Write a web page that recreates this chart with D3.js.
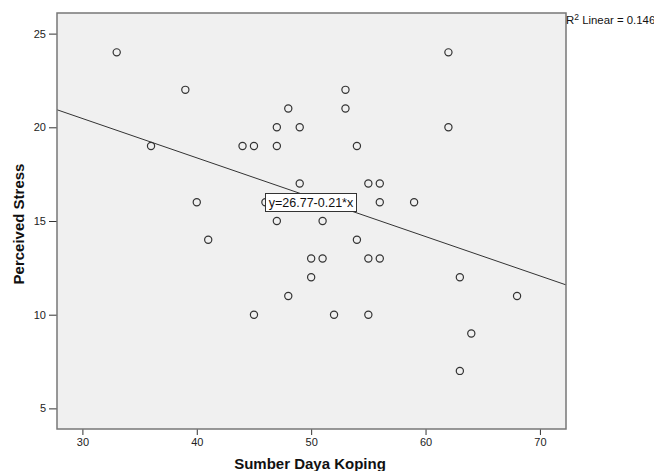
<!DOCTYPE html>
<html>
<head>
<meta charset="utf-8">
<script src="https://cdn.jsdelivr.net/npm/d3@7"></script>
<style>
  body { margin: 0; background: #fff; }
  text { font-family: Arial, "Liberation Sans", sans-serif; }
</style>
</head>
<body>
<svg id="chart"></svg>
<script>
var width = 654,
    height = 471;

var koping = [33, 36, 39, 40, 41, 44, 45, 45, 46, 47, 47, 47, 48, 48, 49, 49, 50, 50, 51,
              51, 52, 53, 53, 54, 54, 55, 56, 56, 59, 55, 56, 55, 62, 62, 63, 64, 63, 68];
var stress = [24, 19, 22, 16, 14, 19, 19, 10, 16, 20, 19, 15, 21, 11, 20, 17, 13, 12, 13,
              15, 10, 22, 21, 19, 14, 17, 17, 16, 16, 13, 13, 10, 24, 20, 12, 9, 7, 11];
var xTicks = [30, 40, 50, 60, 70],
    yTicks = [5, 10, 15, 20, 25];
var fitIntercept = 26.77,
    fitSlope = -0.21,
    rSquare = 0.146;

var svg = d3.select('#chart').attr('width', width).attr('height', height);

// plot box (window.top is reserved, so pLeft etc.)
var pLeft = 57, pTop = 13, pRight = 566, pBottom = 429;

var x = d3.scaleLinear().domain([27.78, 72.28]).range([pLeft, pRight]);
var y = d3.scaleLinear().domain([3.9, 26.1]).range([pBottom, pTop]);

svg.append('rect')
    .attr('x', pLeft).attr('y', pTop)
    .attr('width', pRight - pLeft).attr('height', pBottom - pTop)
    .attr('fill', '#f0f0f0');

// axes
var xAxis = svg.append('g')
    .attr('transform', 'translate(0,' + pBottom + ')')
    .call(d3.axisBottom(x).tickValues(xTicks).tickSize(6).tickPadding(3));
var yAxis = svg.append('g')
    .attr('transform', 'translate(' + pLeft + ',0)')
    .call(d3.axisLeft(y).tickValues(yTicks).tickSize(8).tickPadding(3));
[xAxis, yAxis].forEach(function(a) {
    a.select('.domain').remove();
    a.selectAll('line').attr('stroke', '#333').attr('stroke-width', 1);
    a.selectAll('text').attr('font-size', '11px').attr('fill', '#222')
        .attr('font-family', 'Arial, "Liberation Sans", sans-serif');
});

// fit line
svg.append('clipPath').attr('id', 'plotclip')
    .append('rect').attr('x', pLeft).attr('y', pTop)
    .attr('width', pRight - pLeft).attr('height', pBottom - pTop);
var xs = x.domain();
svg.append('line')
    .attr('clip-path', 'url(#plotclip)')
    .attr('x1', x(xs[0])).attr('y1', y(fitIntercept + fitSlope * xs[0]))
    .attr('x2', x(xs[1])).attr('y2', y(fitIntercept + fitSlope * xs[1]))
    .attr('stroke', '#333').attr('stroke-width', 1);

// points
svg.selectAll('.pt')
    .data(koping)
    .enter()
    .append('circle')
    .attr('class', 'pt')
    .attr('cx', function(d) { return x(d); })
    .attr('cy', function(d, i) { return y(stress[i]); })
    .attr('r', 3.6)
    .attr('fill', 'none')
    .attr('stroke', '#333')
    .attr('stroke-width', 1.2);

// frame
svg.append('rect')
    .attr('x', pLeft).attr('y', pTop)
    .attr('width', pRight - pLeft).attr('height', pBottom - pTop)
    .attr('fill', 'none')
    .attr('stroke', '#777')
    .attr('stroke-width', 1.5);

// equation label
var eq = svg.append('g').attr('transform', 'translate(265.5,193.5)');
eq.append('rect')
    .attr('width', 91).attr('height', 18)
    .attr('fill', '#fff').attr('stroke', '#333').attr('stroke-width', 1);
eq.append('text')
    .attr('x', 45.5).attr('y', 13.5)
    .attr('text-anchor', 'middle')
    .attr('font-size', '12.5px')
    .attr('fill', '#111')
    .text('y=' + fitIntercept.toFixed(2) + (fitSlope < 0 ? '-' : '+') + Math.abs(fitSlope).toFixed(2) + '*x');

// R square label
var r2 = svg.append('text')
    .attr('x', 566).attr('y', 24)
    .attr('font-size', '11.4px')
    .attr('fill', '#111');
r2.append('tspan').text('R');
r2.append('tspan').attr('font-size', '8.5px').attr('dy', -4).text('2');
r2.append('tspan').attr('dy', 4).text(' Linear = ' + rSquare.toFixed(3));

// axis titles
svg.append('text')
    .attr('x', 310).attr('y', 469)
    .attr('text-anchor', 'middle')
    .attr('font-size', '15px')
    .attr('font-weight', 'bold')
    .attr('fill', '#111')
    .text('Sumber Daya Koping');
svg.append('text')
    .attr('transform', 'translate(23.5,224) rotate(-90)')
    .attr('text-anchor', 'middle')
    .attr('font-size', '15px')
    .attr('font-weight', 'bold')
    .attr('fill', '#111')
    .text('Perceived Stress');
</script>
</body>
</html>
